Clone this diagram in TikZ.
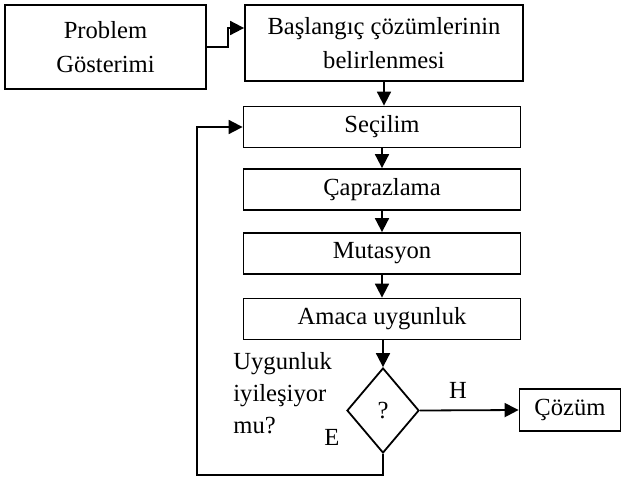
\documentclass[tikz,border=0pt]{standalone}
\usepackage{fontspec}
\setmainfont{Liberation Serif}
\usetikzlibrary{shapes.geometric,arrows.meta}
\begin{document}
\begin{tikzpicture}[
x=0.5pt, y=-0.5pt,
box/.style={draw, line width=0.9pt, fill=white, align=center, inner sep=0pt,
  font=\fontsize{12.3}{17}\selectfont},
stage/.style={box, minimum width=138.5pt, minimum height=20.5pt},
cond/.style={draw, line width=0.9pt, diamond, inner sep=0pt, minimum width=36pt,
  minimum height=42.5pt, font=\fontsize{12.3}{17}\selectfont},
lbl/.style={inner sep=0pt, font=\fontsize{12.3}{16}\selectfont},
arr/.style={line width=0.9pt, -{Triangle[length=7pt,width=7pt]}}
]
\useasboundingbox (0,0) rectangle (626,477);

% ---------- TOP ----------
\node[box, minimum width=100.5pt, minimum height=42pt] (prob) at (105.5,47) {Problem\\Gösterimi};
\node[box, minimum width=139pt, minimum height=38pt] (basla) at (384,43) {Başlangıç çözümlerinin\\belirlenmesi};

% ---------- LOOP STAGES ----------
\node[stage] (sec) at (382,127) {Seçilim};
\node[stage] (capr) at (382,189.5) {Çaprazlama};
\node[stage] (mut) at (382,253.5) {Mutasyon};
\node[stage] (amac) at (382,319) {Amaca uygunluk};

% decision
\node[cond] (dec) at (383,410.5) {?};
\node[box, minimum width=50.5pt, minimum height=21pt] (coz) at (570,410) {Çözüm};

% labels
\node[lbl, align=left, anchor=west] (soru) at (233,393) {Uygunluk\\iyileşiyor\\mu?};
\node[lbl] (hlbl) at (458,390) {H};
\node[lbl] (elbl) at (332,437) {E};
\coordinate (back) at (197,475);

% connections
\draw[arr] (prob.east) -- ++(21,0) |- ([yshift=7.5pt]basla.west);
\draw[arr] (basla.south) -- (basla.south|-sec.north);
\draw[arr] (sec.south) -- (capr.north);
\draw[arr] (capr.south) -- (mut.north);
\draw[arr] (mut.south) -- (mut.south|-amac.north);
\draw[arr] (amac.south-|dec.north) -- (dec.north);
\draw[arr] (dec.east) -- (coz.west);
\draw[arr] (dec.south) |- (back) |- (sec.west);

\end{tikzpicture}
\end{document}
